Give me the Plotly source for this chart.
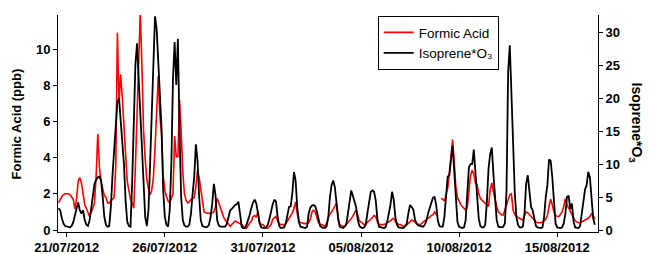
import pandas as pd
import plotly.graph_objects as go

# 2-hourly samples starting 20/07/2012 14:00
start_time = "2012-07-20 14:00"

formic_acid = [
    1.5, 1.7, 1.85, 1.95, 2.0,                                   # 20/07 14-22h
    2.0, 2.0, 1.95, 1.85, 1.7, 1.15, 1.7, 2.7, 2.9, 2.6, 2.0, 1.4,   # 21/07
    1.2, 0.95, 0.75, 1.0, 1.2, 1.5, 3.0, 5.3, 3.5, 2.7, 2.3, 1.9,   # 22/07
    1.8, 1.5, 1.5, 1.6, 1.7, 1.8, 3.5, 10.9, 7.0, 8.6, 7.3, 5.5,    # 23/07
    3.7, 2.7, 2.2, 1.7, 1.5, 1.2, 3.5, 6.5, 9.5, 12.1, 9.0, 5.5,    # 24/07
    3.9, 2.8, 2.3, 1.95, 2.2, 2.9, 4.5, 6.5, 8.5, 6.3, 5.3, 3.0,    # 25/07
    2.2, 1.85, 1.6, 1.5, 1.7, 2.0, 5.2, 4.05, 4.05, 7.2, 5.5, 3.2,  # 26/07
    2.0, 1.65, 1.5, 1.55, 1.7, 1.75, 1.8, 2.4, 3.3, 2.9, 2.2, 1.4,  # 27/07
    1.0, 0.95, 0.92, 0.92, 0.92, 0.95, 1.0, 1.3, 1.75, 1.5, 1.25, 0.9,  # 28/07
    0.7, 0.55, 0.45, 0.3, 0.2, 0.3, 0.4, 0.5, 0.45, 0.4, 0.35, 0.3,     # 29/07
    0.2, 0.12, 0.1, 0.3, 0.4, 0.5, 0.75, 0.8, 0.7, 1.05, 0.4, 0.3,      # 30/07
    0.3, 0.2, 0.1, 0.1, 0.2, 0.3, 0.6, 0.7, 0.75, 0.5, 0.35, 0.3,       # 31/07
    0.3, 0.3, 0.35, 0.5, 0.6, 0.8, 0.95, 1.2, 1.55, 0.9, 0.5, 0.4,      # 01/08
    0.4, 0.35, 0.35, 0.35, 0.4, 0.6, 1.0, 1.1, 1.0, 0.7, 0.4, 0.3,      # 02/08
    0.3, 0.25, 0.2, 0.4, 0.7, 0.85, 1.0, 1.1, 1.3, 1.5, 0.7, 0.3,       # 03/08
    0.25, 0.2, 0.2, 0.3, 0.4, 0.55, 0.65, 0.75, 0.95, 1.1, 0.8, 0.5,    # 04/08
    0.45, 0.35, 0.3, 0.3, 0.45, 0.5, 0.6, 0.65, 0.8, 0.75, 0.45, 0.3,   # 05/08
    0.3, 0.3, 0.3, 0.35, 0.4, 0.45, 0.5, 0.6, 0.65, 0.45, 0.35, 0.3,    # 06/08
    0.3, 0.25, 0.2, 0.2, 0.3, 0.4, 0.5, 0.55, 0.5, 0.45, 0.35, 0.3,     # 07/08
    0.3, 0.35, 0.45, 0.5, 0.6, 0.65, 0.7, 0.8, 0.85, 1.0, 0.9, 0.75,    # 08/08
    None, 1.75, 1.7, 1.6, 1.9, 2.3, 3.1, 4.0, 5.0, 3.8, 2.4, 1.8,       # 09/08
    1.6, 1.4, 1.3, 1.2, 1.1, 1.25, 2.2, 3.0, 3.3, 3.1, 2.6, 2.5,        # 10/08
    2.0, 1.75, 1.65, 1.55, 1.5, 1.4, 1.3, 2.2, 2.6, 2.1, 1.65, 1.3,     # 11/08
    1.0, 0.9, 0.83, 0.83, 1.1, 1.45, 1.6, 1.95, 2.0, 1.1, 0.85, 0.75,   # 12/08
    0.7, 0.65, 0.6, 0.55, 0.8, 1.0, 0.95, 0.85, 0.7, 0.6, 0.55, 0.45,   # 13/08
    0.4, 0.4, 0.4, 0.45, 0.5, 0.6, 0.8, 1.3, 1.7, 1.4, 1.0, 0.8,        # 14/08
    0.75, 0.75, 0.85, 1.0, 1.3, 1.75, 1.4, 1.2, 1.05, 0.85, 0.65, 0.5,  # 15/08
    0.45, 0.4, 0.4, 0.45, 0.5, 0.55, 0.6, 0.65, 0.75, 0.9, 0.8, 0.6,    # 16/08
]

isoprene_o3 = [
    3.3, 3.0, 1.8, 1.0, 0.6,                                      # 20/07 14-22h
    0.5, 0.4, 0.4, 0.6, 1.2, 2.2, 3.5, 4.2, 3.0, 2.5, 3.0, 1.5,       # 21/07
    0.8, 0.6, 1.5, 3.5, 5.6, 7.0, 7.6, 8.0, 8.1, 7.5, 5.0, 2.0,       # 22/07
    0.8, 0.5, 0.6, 3.5, 8.3, 12.3, 16.0, 19.5, 20.0, 17.0, 14.0, 10.0,  # 23/07
    4.5, 1.3, 0.6, 0.5, 7.0, 17.0, 25.0, 28.3, 22.5, 18.7, 13.0, 6.0,   # 24/07
    2.0, 0.6, 3.0, 10.0, 18.2, 25.0, 32.4, 30.5, 25.8, 20.5, 15.5, 6.0, # 25/07
    2.0, 0.8, 0.5, 3.0, 10.0, 23.0, 28.5, 22.0, 29.0, 15.0, 5.0, 1.5,   # 26/07
    0.7, 0.5, 0.5, 0.8, 2.5, 5.5, 8.1, 13.0, 10.5, 5.0, 1.5, 0.6,       # 27/07
    0.5, 0.4, 0.5, 0.8, 2.0, 4.0, 7.0, 5.3, 1.5, 0.7, 0.5, 0.5,         # 28/07
    0.5, 0.5, 1.0, 2.0, 3.0, 3.2, 3.5, 3.8, 3.9, 4.3, 2.5, 0.5,         # 29/07
    0.3, 0.3, 0.8, 1.5, 2.4, 3.4, 4.2, 4.6, 4.0, 2.5, 1.0, 0.4,         # 30/07
    0.3, 0.3, 0.4, 0.8, 1.7, 3.0, 3.9, 4.6, 4.3, 2.0, 0.6, 0.3,         # 31/07
    0.3, 0.4, 1.0, 2.3, 3.5, 3.6, 5.6, 8.8, 7.5, 3.5, 1.2, 0.5,         # 01/08
    0.4, 0.3, 0.3, 0.5, 2.5, 3.4, 3.7, 3.8, 3.6, 2.8, 1.4, 0.6,         # 02/08
    0.4, 0.3, 0.3, 0.6, 2.0, 5.0, 6.8, 7.5, 6.5, 4.2, 1.7, 0.5,         # 03/08
    0.4, 0.3, 0.5, 0.9, 2.5, 4.6, 6.0, 5.2, 4.3, 3.5, 1.6, 0.6,         # 04/08
    0.4, 0.3, 0.4, 1.0, 2.7, 4.0, 5.8, 6.0, 5.8, 4.5, 1.8, 0.5,         # 05/08
    0.4, 0.3, 0.3, 0.4, 1.2, 2.5, 3.8, 5.8, 4.6, 2.0, 0.8, 0.4,         # 06/08
    0.4, 0.3, 0.3, 0.6, 1.0, 2.6, 3.8, 3.5, 3.1, 1.6, 1.0, 0.7,         # 07/08
    0.6, 0.5, 0.5, 0.8, 1.4, 2.5, 3.3, 3.8, 4.9, 5.0, 3.8, 1.4,         # 08/08
    0.6, 0.5, 0.5, 2.0, 5.0, 8.1, 8.3, 10.6, 12.8, 9.0, 4.0, 1.2,       # 09/08
    0.5, 0.4, 0.3, 0.4, 1.5, 5.5, 9.5, 10.0, 10.0, 12.2, 8.5, 5.0,      # 10/08
    1.8, 0.6, 0.4, 0.4, 0.8, 4.3, 9.3, 11.5, 12.5, 8.5, 5.0, 1.5,       # 11/08
    0.5, 0.4, 0.4, 0.5, 1.0, 6.0, 24.0, 28.0, 19.0, 13.5, 6.0, 2.0,     # 12/08
    0.8, 0.4, 0.4, 0.5, 2.5, 7.0, 8.3, 5.8, 3.5, 3.0, 1.5, 0.6,         # 13/08
    0.4, 0.3, 0.3, 0.4, 2.0, 5.0, 6.8, 10.7, 10.5, 8.0, 3.5, 1.0,       # 14/08
    0.4, 0.3, 0.3, 0.4, 1.0, 2.5, 5.0, 5.2, 3.2, 4.0, 1.3, 0.4,         # 15/08
    0.3, 0.3, 0.6, 2.5, 4.5, 6.1, 6.8, 8.8, 8.0, 5.2, 1.8, 0.8,         # 16/08
]

tick_dates = ["2012-07-21", "2012-07-26", "2012-07-31",
              "2012-08-05", "2012-08-10", "2012-08-15"]
tick_labels = ["21/07/2012", "26/07/2012", "31/07/2012",
               "05/08/2012", "10/08/2012", "15/08/2012"]
left_ticks = [0, 2, 4, 6, 8, 10]
right_ticks = [0, 5, 10, 15, 20, 25, 30]

times = pd.date_range(start_time, periods=len(formic_acid), freq="2h")

FONT = "Arial, Liberation Sans, sans-serif"

fig = go.Figure()
fig.add_trace(go.Scatter(x=times, y=formic_acid, mode="lines", name="Formic Acid",
                         line=dict(color="#ff0000", width=1.6), yaxis="y",
                         connectgaps=False))
fig.add_trace(go.Scatter(x=times, y=isoprene_o3, mode="lines", name="Isoprene*O₃",
                         line=dict(color="#000000", width=1.8), yaxis="y2"))

axis_common = dict(showgrid=False, zeroline=False, showline=True, linecolor="black",
                   linewidth=1, ticks="outside", ticklen=4, tickcolor="black",
                   automargin=False,
                   tickfont=dict(family=FONT, size=13, color="black", weight="bold"))

fig.update_layout(
    width=649, height=254,
    margin=dict(l=58, r=51, t=15, b=22, autoexpand=False),
    paper_bgcolor="white", plot_bgcolor="white",
    font=dict(family=FONT, color="black"),
    xaxis=dict(range=["2012-07-20 13:20", "2012-08-17 01:55"],
               tickvals=tick_dates, ticktext=tick_labels,
               ticklabelstandoff=-1, **axis_common),
    yaxis=dict(range=[-0.11, 11.88], tickvals=left_ticks, **axis_common),
    yaxis2=dict(range=[-0.3, 32.6], tickvals=right_ticks, overlaying="y",
                side="right", **axis_common),
    legend=dict(x=0.592, y=0.995, xanchor="left", yanchor="top",
                bordercolor="black", borderwidth=1, bgcolor="white",
                font=dict(family=FONT, size=13.5, color="black"),
                tracegroupgap=0),
    showlegend=True,
    annotations=[
        dict(text="<b>Formic Acid (ppb)</b>", xref="paper", yref="paper",
             x=-0.076, y=0.5, textangle=-90, showarrow=False,
             font=dict(family=FONT, size=13, color="black"),
             xanchor="center", yanchor="middle"),
        dict(text="<b>Isoprene*O<sub>3</sub></b>", xref="paper", yref="paper",
             x=1.072, y=0.5, textangle=90, showarrow=False,
             font=dict(family=FONT, size=14, color="black"),
             xanchor="center", yanchor="middle"),
    ],
)

fig.write_html("out.html", config={"displayModeBar": False},
               post_script="document.body.style.margin='0';document.body.style.overflow='hidden';")
